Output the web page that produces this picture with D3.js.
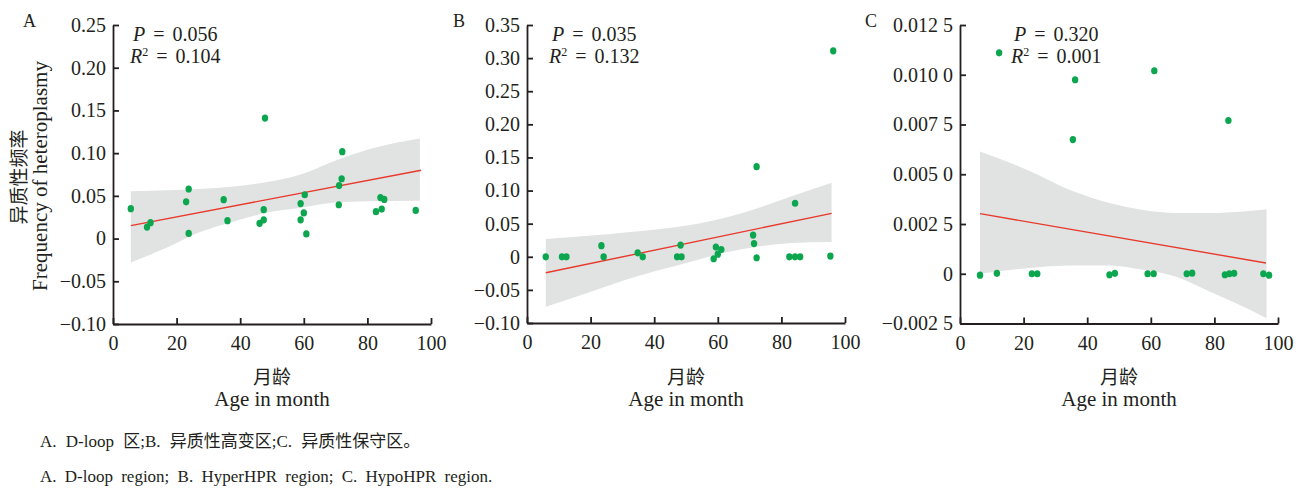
<!DOCTYPE html>
<html>
<head>
<meta charset="utf-8">
<script src="https://cdn.jsdelivr.net/npm/d3@7"></script>
<style>
  body { margin: 0; background: #fff; }
  svg text { fill: #231f20; }
  .axis path, .axis line { stroke: #231f20; stroke-width: 1.8; }
</style>
</head>
<body>
<div id="charts"></div>
<script>
// Data (age in months, heteroplasmy frequency)
var ageA  = [5.6, 10.7, 11.8, 23, 23.8, 23.8, 34.8, 36, 47.8, 46.1, 47.4, 47.4, 59, 60.3, 60, 59, 60.8, 72.1, 71.9, 71.1, 71, 82.7, 84.5, 84.1, 85.3, 95.2];
var freqA = [0.035, 0.0135, 0.0186, 0.043, 0.058, 0.006, 0.0455, 0.021, 0.141, 0.0178, 0.022, 0.0338, 0.041, 0.0513, 0.030, 0.022, 0.0054, 0.1017, 0.070, 0.062, 0.0396, 0.0315, 0.0345, 0.048, 0.0458, 0.033];

var ageB  = [5.9, 11, 12.4, 23.4, 24.1, 34.8, 36.4, 47.2, 48.6, 48.3, 58.7, 60, 59.4, 61.1, 72.2, 71.1, 71.4, 72.2, 84.3, 82.5, 84.3, 85.9, 95.4, 96.3];
var freqB = [0, 0, 0, 0.0167, 0, 0.006, 0, 0, 0, 0.0177, -0.003, 0.004, 0.0147, 0.011, 0.136, 0.0328, 0.020, -0.0015, 0.0808, 0, 0, 0, 0.001, 0.311];

var ageC  = [6.3, 11.6, 22.6, 24.3, 47, 48.7, 59, 60.9, 71.3, 73, 83.3, 84.7, 86.2, 95.4, 97.2, 35.5, 36.2, 61.1, 84.4, 12.3];
var freqC = [-0.00007, 0.00002, 0, 0, -0.00005, 0.00002, 0, 0, 0, 0.00003, -0.00005, 0, 0.00002, 0, -0.00007, 0.00674, 0.00975, 0.0102, 0.0077, 0.0111];

// fitted lines (end points)
var fitXA = [5.6, 96.9], fitYA = [0.0151, 0.080];
var fitXB = [5.9, 95.8], fitYB = [-0.0242, 0.0656];
var fitXC = [6.3, 96.2], fitYC = [0.00302, 0.00054];

// confidence bands
var bandXA  = [5.6, 17, 27, 38, 48, 59, 69, 80, 96.5];
var bandHiA = [0.0555, 0.0565, 0.058, 0.061, 0.066, 0.075, 0.090, 0.104, 0.117];
var bandLoA = [-0.028, -0.0105, 0.007, 0.020, 0.030, 0.036, 0.042, 0.0438, 0.0443];

var bandXB  = [5.9, 20.3, 30.8, 51.8, 62.3, 72.7, 83.2, 95.8];
var bandHiB = [0.0268, 0.032, 0.0368, 0.0485, 0.059, 0.0738, 0.0914, 0.1117];
var bandLoB = [-0.0753, -0.0525, -0.035, -0.007, 0.0065, 0.0156, 0.0207, 0.0223];

var bandXC  = [6.3, 21, 35.6, 47, 57.6, 68, 78.6, 89, 96.4];
var bandHiC = [0.00614, 0.00523, 0.00414, 0.00355, 0.00320, 0.00305, 0.00305, 0.00313, 0.00324];
var bandLoC = [0.0000, 0.00028, 0.00042, 0.00042, 0.0002, -0.00015, -0.0009, -0.00165, -0.00223];

// axis ticks
var xTicks = [0, 20, 40, 60, 80, 100];
var yTicksA = [-0.10, -0.05, 0, 0.05, 0.10, 0.15, 0.20, 0.25];
var yLabelsA = ["\u22120.10", "\u22120.05", "0", "0.05", "0.10", "0.15", "0.20", "0.25"];
var yTicksB = [-0.10, -0.05, 0, 0.05, 0.10, 0.15, 0.20, 0.25, 0.30, 0.35];
var yLabelsB = ["\u22120.10", "\u22120.05", "0", "0.05", "0.10", "0.15", "0.20", "0.25", "0.30", "0.35"];
var yTicksC = [-0.0025, 0, 0.0025, 0.005, 0.0075, 0.01, 0.0125];
var yLabelsC = ["\u22120.002 5", "0", "0.002 5", "0.005 0", "0.007 5", "0.010 0", "0.012 5"];

var statsP = ["0.056", "0.035", "0.320"];
var statsR = ["0.104", "0.132", "0.001"];

var serif = '"Liberation Serif", "Times New Roman", serif';
var cjk = '"Liberation Serif", "Noto Sans CJK SC", serif';

var svg = d3.select('#charts').append('svg')
  .attr('width', 1307)
  .attr('height', 491);

var panels = [
  {letter: 'A', x0: 113, x1: 431, y0: 324, y1: 25, dom: [-0.10, 0.25], ticks: yTicksA, labels: yLabelsA,
   age: ageA, freq: freqA, fx: fitXA, fy: fitYA, bx: bandXA, bh: bandHiA, bl: bandLoA,
   px: 133, rx: 130, lx: 23},
  {letter: 'B', x0: 527, x1: 845, y0: 323, y1: 25, dom: [-0.10, 0.35], ticks: yTicksB, labels: yLabelsB,
   age: ageB, freq: freqB, fx: fitXB, fy: fitYB, bx: bandXB, bh: bandHiB, bl: bandLoB,
   px: 552, rx: 549, lx: 453},
  {letter: 'C', x0: 960, x1: 1278, y0: 323.5, y1: 25, dom: [-0.0025, 0.0125], ticks: yTicksC, labels: yLabelsC,
   age: ageC, freq: freqC, fx: fitXC, fy: fitYC, bx: bandXC, bh: bandHiC, bl: bandLoC,
   px: 1014, rx: 1011, lx: 865}
];

panels.forEach(function(p, i) { drawPanel(p, i); });

function drawPanel(p, i) {
  var x = d3.scaleLinear().domain([0, 100]).range([p.x0, p.x1]),
      y = d3.scaleLinear().domain(p.dom).range([p.y0, p.y1]);

  var g = svg.append('g');

  // band
  var band = d3.area()
    .x(function(d) { return x(d[0]); })
    .y0(function(d) { return y(d[1]); })
    .y1(function(d) { return y(d[2]); })
    .curve(d3.curveMonotoneX);
  g.append('path')
    .datum(p.bx.map(function(v, k) { return [v, p.bl[k], p.bh[k]]; }))
    .attr('d', band)
    .attr('fill', '#e1e3e3');

  // fit line
  var line = d3.line()
    .x(function(d) { return x(d[0]); })
    .y(function(d) { return y(d[1]); });
  g.append('path')
    .datum(p.fx.map(function(v, k) { return [v, p.fy[k]]; }))
    .attr('d', line)
    .attr('fill', 'none')
    .attr('stroke', '#e8392b')
    .attr('stroke-width', 1.4);

  // points
  g.selectAll('.dot')
    .data(p.age.map(function(a, k) { return [a, p.freq[k]]; }))
    .enter().append('ellipse')
      .attr('class', 'dot')
      .attr('cx', function(d) { return x(d[0]); })
      .attr('cy', function(d) { return y(d[1]); })
      .attr('rx', 3.2)
      .attr('ry', 3.6)
      .attr('fill', '#0ba64e');

  // axes, ticks point inward
  var xAxis = d3.axisBottom(x).tickValues(xTicks).tickSizeInner(-6).tickSizeOuter(0).tickPadding(12);
  var yAxis = d3.axisLeft(y).tickValues(p.ticks)
    .tickFormat(function(d, k) { return p.labels[k]; })
    .tickSizeInner(-6).tickSizeOuter(0).tickPadding(7);

  var gx = g.append('g')
    .attr('class', 'axis')
    .attr('transform', 'translate(0,' + p.y0 + ')')
    .call(xAxis);
  var gy = g.append('g')
    .attr('class', 'axis')
    .attr('transform', 'translate(' + p.x0 + ',0)')
    .call(yAxis);
  [gx, gy].forEach(function(a) {
    a.attr('font-family', null).attr('font-size', null);
    a.selectAll('text')
      .attr('fill', '#231f20')
      .style('font-family', serif)
      .style('font-size', '20px');
  });

  // panel letter
  g.append('text')
    .attr('x', p.lx).attr('y', 27)
    .style('font-family', serif).style('font-size', '18px')
    .text(p.letter);

  // statistics
  var st = g.append('text')
    .attr('x', p.px).attr('y', 41)
    .style('font-family', serif).style('font-size', '20px')
    .style('word-spacing', '3px');
  st.append('tspan').style('font-style', 'italic').text('P');
  st.append('tspan').text(' = ' + statsP[i]);

  var sr = g.append('text')
    .attr('x', p.rx).attr('y', 63)
    .style('font-family', serif).style('font-size', '20px')
    .style('word-spacing', '3px');
  sr.append('tspan').style('font-style', 'italic').text('R');
  sr.append('tspan').attr('dy', -7).style('font-size', '12px').text('2');
  sr.append('tspan').attr('dy', 7).text(' = ' + statsR[i]);

  // x title
  var cx = (p.x0 + p.x1) / 2;
  g.append('text')
    .attr('x', cx).attr('y', 384)
    .attr('text-anchor', 'middle')
    .style('font-family', cjk).style('font-size', '19px')
    .text('月龄');
  g.append('text')
    .attr('x', cx).attr('y', 406)
    .attr('text-anchor', 'middle')
    .style('font-family', serif).style('font-size', '21px')
    .text('Age in month');
}

// y title (first panel only)
svg.append('text')
  .attr('transform', 'translate(26,177) rotate(-90)')
  .attr('text-anchor', 'middle')
  .style('font-family', cjk).style('font-size', '19px')
  .text('异质性频率');
svg.append('text')
  .attr('transform', 'translate(47,176) rotate(-90)')
  .attr('text-anchor', 'middle')
  .style('font-family', serif).style('font-size', '21px')
  .text('Frequency of heteroplasmy');

// caption
svg.append('text')
  .attr('x', 40).attr('y', 447)
  .style('font-family', cjk).style('font-size', '17px')
  .style('word-spacing', '5px')
  .text('A. D-loop 区;B. 异质性高变区;C. 异质性保守区。');
svg.append('text')
  .attr('x', 40).attr('y', 482)
  .style('font-family', serif).style('font-size', '17px')
  .style('word-spacing', '4px')
  .text('A. D-loop region; B. HyperHPR region; C. HypoHPR region.');
</script>
</body>
</html>
